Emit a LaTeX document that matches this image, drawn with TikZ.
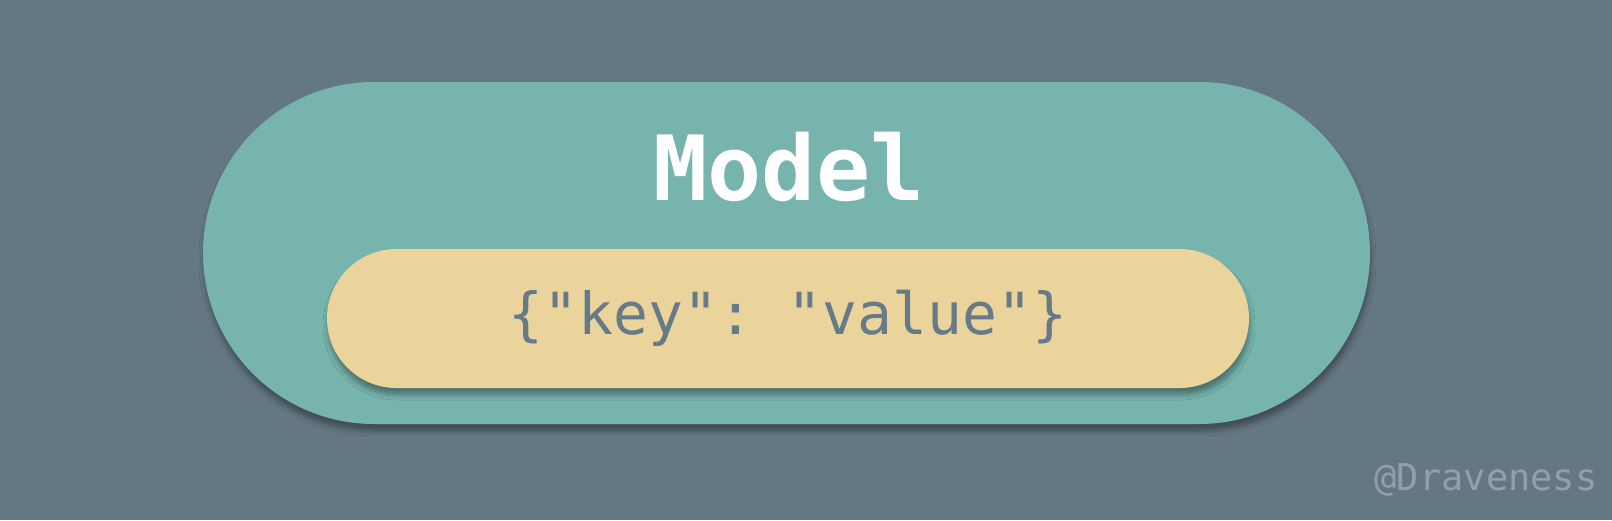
\documentclass[tikz,border=0pt]{standalone}
\usepackage{fontspec}
\setmonofont{DejaVu Sans Mono}
\usetikzlibrary{shapes.misc,shadows.blur}
\definecolor{bgcol}{HTML}{647883}
\definecolor{tealcol}{HTML}{77B4AD}
\definecolor{sandcol}{HTML}{EAD49B}
\definecolor{inkcol}{HTML}{667A88}
\definecolor{markcol}{HTML}{8FA2AB}
\begin{document}
\begin{tikzpicture}[x=1pt,y=-1pt,font=\ttfamily,
	pill/.style={rounded rectangle,inner sep=0pt,
		blur shadow={shadow xshift=1pt,shadow yshift=-7pt,shadow blur radius=5pt,shadow opacity=35}}]
	%% nền
	\fill[bgcol] (0,0) rectangle (1612,520);
	\useasboundingbox (0,0) rectangle (1612,520);
	%% hai khối
	\node[pill,fill=tealcol,minimum width=1167pt,minimum height=342pt] (model) at (786.5,253) {};
	\node[pill,fill=sandcol,minimum width=922pt,minimum height=139pt] (data) at (788,318.5) {};
	%% chữ
	\node[text=white,font=\fontsize{90}{90}\ttfamily\bfseries] (title) at (789,167) {Model};
	\node[text=inkcol,font=\fontsize{58}{58}\ttfamily] (kv) at (data.center) {\{"key": "value"\}};
	\node[text=markcol,font=\fontsize{37}{37}\ttfamily,anchor=east] (mark) at (1601,480) {@Draveness};
\end{tikzpicture}
\end{document}
